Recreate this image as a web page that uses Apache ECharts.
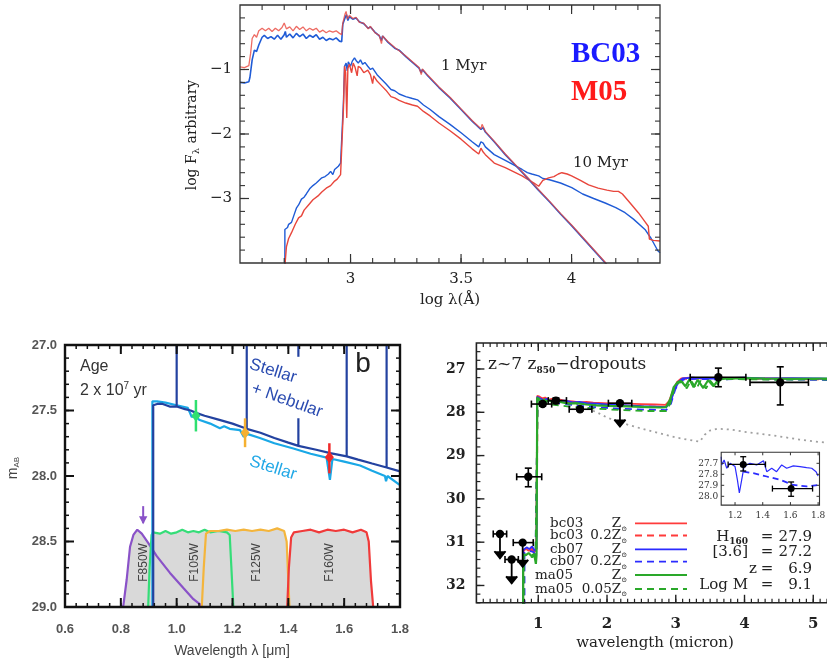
<!DOCTYPE html>
<html><head><meta charset="utf-8">
<script src="https://cdn.jsdelivr.net/npm/echarts@6/dist/echarts.min.js"></script>
<style>html,body{margin:0;padding:0;background:#fff}#c{width:827px;height:664px}</style>
</head><body><div id="c"></div>
<script>
// ---------------- TOP PANEL: log F_lambda vs log lambda ----------------
const topXLabels = [3, 3.5, 4];
const topYLabels = [-3, -2, -1];
const bc03_1Myr = [[2.50,-1.20],[2.52,-1.21],[2.54,-1.19],[2.545,-1.12],[2.555,-0.85],[2.565,-0.70],[2.575,-0.72],[2.585,-0.62],[2.60,-0.50],[2.61,-0.47],[2.625,-0.52],[2.64,-0.49],[2.655,-0.53],[2.67,-0.47],[2.685,-0.53],[2.70,-0.46],[2.705,-0.41],[2.71,-0.50],[2.725,-0.45],[2.74,-0.51],[2.755,-0.44],[2.77,-0.49],[2.785,-0.45],[2.80,-0.52],[2.815,-0.47],[2.83,-0.50],[2.845,-0.46],[2.86,-0.53],[2.875,-0.50],[2.89,-0.55],[2.905,-0.52],[2.92,-0.54],[2.935,-0.51],[2.95,-0.56],[2.96,-0.57],[2.965,-0.30],[2.975,-0.20],[2.982,-0.15],[2.988,-0.24],[2.995,-0.18],[3.01,-0.22],[3.025,-0.20],[3.04,-0.26],[3.06,-0.29],[3.08,-0.36],[3.09,-0.34],[3.11,-0.42],[3.13,-0.48],[3.14,-0.55],[3.145,-0.48],[3.17,-0.58],[3.20,-0.67],[3.22,-0.70],[3.25,-0.80],[3.28,-0.89],[3.31,-0.98],[3.32,-1.05],[3.325,-1.00],[3.35,-1.10],[3.40,-1.28],[3.45,-1.44],[3.50,-1.62],[3.55,-1.80],[3.59,-1.93],[3.60,-1.90],[3.61,-1.97],[3.65,-2.12],[3.70,-2.32],[3.75,-2.50],[3.80,-2.68],[3.85,-2.87],[3.90,-3.05],[3.95,-3.24],[4.00,-3.42],[4.05,-3.61],[4.10,-3.80],[4.15,-3.99],[4.16,-4.03]];
const m05_1Myr = [[2.50,-0.96],[2.52,-0.97],[2.54,-0.94],[2.548,-0.75],[2.555,-0.52],[2.565,-0.46],[2.575,-0.50],[2.585,-0.40],[2.60,-0.36],[2.615,-0.40],[2.63,-0.36],[2.645,-0.41],[2.66,-0.36],[2.675,-0.40],[2.69,-0.35],[2.70,-0.28],[2.71,-0.37],[2.725,-0.34],[2.74,-0.40],[2.755,-0.33],[2.77,-0.38],[2.785,-0.34],[2.80,-0.40],[2.815,-0.36],[2.83,-0.39],[2.845,-0.36],[2.86,-0.42],[2.875,-0.39],[2.89,-0.43],[2.905,-0.40],[2.92,-0.42],[2.935,-0.40],[2.95,-0.44],[2.96,-0.46],[2.965,-0.28],[2.975,-0.14],[2.98,-0.10],[2.986,-0.22],[2.995,-0.16],[3.01,-0.21],[3.025,-0.19],[3.04,-0.27],[3.06,-0.28],[3.08,-0.37],[3.09,-0.33],[3.11,-0.43],[3.13,-0.47],[3.14,-0.60],[3.145,-0.48],[3.17,-0.57],[3.20,-0.66],[3.22,-0.71],[3.25,-0.79],[3.28,-0.88],[3.31,-0.97],[3.32,-1.08],[3.325,-0.99],[3.35,-1.09],[3.40,-1.27],[3.45,-1.43],[3.50,-1.61],[3.55,-1.79],[3.59,-1.92],[3.595,-1.85],[3.61,-1.96],[3.65,-2.11],[3.70,-2.31],[3.75,-2.49],[3.80,-2.67],[3.85,-2.86],[3.90,-3.04],[3.95,-3.23],[4.00,-3.41],[4.05,-3.60],[4.10,-3.79],[4.15,-3.98],[4.16,-4.03]];
const bc03_10Myr = [[2.703,-4.05],[2.703,-3.48],[2.71,-3.48],[2.715,-3.45],[2.72,-3.40],[2.733,-3.37],[2.745,-3.25],[2.755,-3.15],[2.765,-3.10],[2.778,-3.01],[2.79,-2.98],[2.80,-2.93],[2.815,-2.85],[2.83,-2.80],[2.845,-2.76],[2.853,-2.73],[2.87,-2.68],[2.885,-2.66],[2.90,-2.62],[2.91,-2.58],[2.92,-2.63],[2.928,-2.55],[2.945,-2.50],[2.955,-2.45],[2.962,-2.45],[2.968,-1.50],[2.973,-0.95],[2.98,-0.90],[2.985,-1.02],[2.99,-0.88],[3.00,-0.95],[3.008,-0.87],[3.018,-0.82],[3.025,-0.86],[3.035,-0.90],[3.045,-0.85],[3.055,-0.92],[3.065,-0.89],[3.078,-0.95],[3.09,-1.00],[3.10,-0.98],[3.12,-1.08],[3.14,-1.15],[3.16,-1.22],[3.183,-1.31],[3.20,-1.33],[3.22,-1.38],[3.25,-1.42],[3.28,-1.45],[3.303,-1.47],[3.33,-1.55],[3.36,-1.62],[3.40,-1.73],[3.45,-1.85],[3.50,-1.98],[3.55,-2.12],[3.58,-2.20],[3.59,-2.12],[3.60,-2.14],[3.61,-2.20],[3.65,-2.32],[3.70,-2.41],[3.776,-2.55],[3.80,-2.60],[3.82,-2.62],[3.851,-2.65],[3.86,-2.62],[3.87,-2.69],[3.90,-2.71],[3.95,-2.76],[4.001,-2.83],[4.05,-2.93],[4.10,-3.00],[4.152,-3.07],[4.20,-3.14],[4.242,-3.22],[4.28,-3.32],[4.332,-3.48],[4.36,-3.62],[4.39,-3.81],[4.40,-3.84]];
const m05_10Myr = [[2.703,-4.05],[2.71,-3.75],[2.72,-3.62],[2.733,-3.53],[2.75,-3.40],[2.765,-3.30],[2.778,-3.27],[2.79,-3.18],[2.81,-3.10],[2.83,-3.02],[2.853,-2.96],[2.87,-2.90],[2.89,-2.84],[2.91,-2.80],[2.928,-2.73],[2.94,-2.70],[2.955,-2.63],[2.962,-2.60],[2.968,-1.60],[2.973,-0.95],[2.978,-1.05],[2.983,-1.75],[2.988,-0.98],[2.995,-0.92],[3.005,-1.05],[3.012,-0.90],[3.02,-0.96],[3.03,-1.10],[3.035,-0.95],[3.045,-0.97],[3.06,-1.05],[3.078,-1.01],[3.09,-1.08],[3.10,-1.22],[3.105,-1.10],[3.12,-1.18],[3.14,-1.25],[3.16,-1.32],[3.183,-1.42],[3.20,-1.44],[3.22,-1.48],[3.25,-1.52],[3.28,-1.55],[3.303,-1.57],[3.33,-1.65],[3.36,-1.72],[3.40,-1.83],[3.45,-1.95],[3.50,-2.08],[3.55,-2.23],[3.58,-2.31],[3.59,-2.22],[3.60,-2.28],[3.61,-2.32],[3.65,-2.45],[3.70,-2.52],[3.776,-2.65],[3.80,-2.70],[3.83,-2.76],[3.851,-2.81],[3.87,-2.72],[3.896,-2.68],[3.92,-2.66],[3.94,-2.62],[3.956,-2.60],[3.98,-2.62],[4.00,-2.65],[4.04,-2.72],[4.077,-2.79],[4.12,-2.84],[4.16,-2.87],[4.19,-2.89],[4.212,-2.89],[4.23,-2.93],[4.26,-3.05],[4.302,-3.22],[4.33,-3.35],[4.347,-3.43],[4.352,-3.63],[4.37,-3.65],[4.40,-3.66]];

// ---------------- BOTTOM LEFT: m_AB vs wavelength ----------------
const blXLabels = [0.6, 0.8, 1.0, 1.2, 1.4, 1.6, 1.8];
const blYLabels = [27.0, 27.5, 28.0, 28.5, 29.0];
const nebularSED = [[0.916,29.0],[0.916,27.46],[0.93,27.45],[0.95,27.45],[0.975,27.47],[1.0,27.47],[1.0,27.0],[1.0,27.47],[1.03,27.49],[1.05,27.5],[1.072,27.52],[1.1,27.54],[1.15,27.57],[1.2,27.6],[1.251,27.64],[1.251,27.0],[1.251,27.64],[1.3,27.67],[1.35,27.71],[1.4,27.745],[1.436,27.77],[1.436,27.56],[1.436,27.77],[1.5,27.8],[1.55,27.825],[1.609,27.85],[1.609,27.0],[1.609,27.85],[1.65,27.875],[1.7,27.905],[1.752,27.935],[1.752,27.0],[1.752,27.935],[1.8,27.965]];
const nebularLineTop = [[1.436,27.0],[1.436,27.09]];
const stellarSED = [[0.913,29.0],[0.913,27.43],[0.93,27.43],[0.96,27.44],[1.0,27.46],[1.04,27.48],[1.054,27.55],[1.065,27.53],[1.08,27.57],[1.12,27.6],[1.155,27.635],[1.17,27.62],[1.19,27.64],[1.227,27.65],[1.24,27.7],[1.255,27.68],[1.298,27.71],[1.35,27.75],[1.418,27.79],[1.48,27.83],[1.537,27.86],[1.549,28.03],[1.558,27.87],[1.6,27.89],[1.657,27.92],[1.7,27.96],[1.746,28.0],[1.75,28.04],[1.755,28.0],[1.8,28.07]];
const filterF850W = [[0.80,29.0],[0.809,28.99],[0.821,28.79],[0.833,28.54],[0.845,28.45],[0.859,28.41],[0.875,28.44],[0.898,28.51],[0.928,28.61],[0.976,28.74],[1.024,28.855],[1.06,28.94],[1.084,28.98],[1.09,29.0]];
const filterF105W = [[0.898,29.0],[0.903,28.7],[0.91,28.45],[0.915,28.43],[0.94,28.44],[0.96,28.42],[0.98,28.44],[1.0,28.43],[1.02,28.41],[1.04,28.43],[1.06,28.42],[1.08,28.43],[1.1,28.41],[1.12,28.43],[1.15,28.42],[1.18,28.43],[1.19,28.45],[1.196,28.7],[1.203,29.0]];
const filterF125W = [[1.09,29.0],[1.097,28.7],[1.105,28.44],[1.12,28.42],[1.15,28.42],[1.18,28.41],[1.21,28.42],[1.24,28.41],[1.27,28.42],[1.3,28.41],[1.33,28.42],[1.36,28.40],[1.385,28.42],[1.394,28.5],[1.4,28.8],[1.404,29.0]];
const filterF160W = [[1.396,29.0],[1.402,28.7],[1.41,28.47],[1.42,28.43],[1.45,28.42],[1.48,28.41],[1.51,28.43],[1.54,28.41],[1.57,28.42],[1.60,28.41],[1.63,28.43],[1.66,28.41],[1.68,28.43],[1.688,28.5],[1.696,28.8],[1.704,29.0]];
const filterNames = ['F850W', 'F105W', 'F125W', 'F160W'];
const filterLabelPos = [[0.883, 28.66], [1.066, 28.66], [1.286, 28.66], [1.549, 28.66]];
// [x, y, xlo, xhi, ylo, yhi, arrowTo]
const blPhot = [[1.069,27.54,null,null,27.42,27.66,null],[1.245,27.67,null,null,27.56,27.78,null],[1.547,27.856,null,null,27.75,27.98,null]];
const blLimit = [[0.88,28.23,null,null,null,null,28.36]];

// ---------------- BOTTOM RIGHT: z~7 dropouts ----------------
const brXLabels = [1, 2, 3, 4, 5];
const brYLabels = [27, 28, 29, 30, 31, 32];
const bc03Solar = [[0.78,32.5],[0.78,31.22],[0.82,31.15],[0.86,31.2],[0.9,31.12],[0.94,31.22],[0.97,31.18],[0.985,27.62],[1.02,27.64],[1.06,27.68],[1.1,27.66],[1.15,27.71],[1.2,27.69],[1.26,27.72],[1.32,27.71],[1.4,27.74],[1.5,27.75],[1.6,27.77],[1.7,27.76],[1.8,27.78],[1.95,27.79],[2.1,27.8],[2.3,27.8],[2.5,27.81],[2.7,27.82],[2.85,27.83],[2.9,27.75],[2.96,27.5],[3.02,27.3],[3.08,27.22],[3.2,27.2],[3.4,27.22],[3.6,27.2],[3.9,27.21],[4.2,27.22],[4.6,27.22],[5.0,27.23],[5.5,27.23],[6.0,27.24]];
const bc03Sub = [[0.79,32.5],[0.79,31.25],[0.84,31.2],[0.9,31.18],[0.95,31.26],[0.975,31.2],[0.99,27.65],[1.04,27.68],[1.1,27.7],[1.2,27.73],[1.3,27.75],[1.4,27.77],[1.55,27.79],[1.7,27.8],[1.9,27.82],[2.1,27.84],[2.3,27.85],[2.5,27.86],[2.7,27.87],[2.85,27.88],[2.92,27.75],[2.98,27.45],[3.04,27.28],[3.12,27.23],[3.3,27.22],[3.6,27.21],[4.0,27.22],[4.5,27.23],[5.0,27.24],[5.5,27.24],[6.0,27.25]];
const cb07Solar = [[0.78,32.5],[0.78,31.18],[0.83,31.12],[0.87,31.16],[0.91,31.1],[0.95,31.2],[0.975,31.15],[0.985,27.64],[1.03,27.68],[1.07,27.72],[1.12,27.69],[1.18,27.74],[1.22,27.72],[1.3,27.74],[1.4,27.73],[1.5,27.77],[1.6,27.76],[1.7,27.79],[1.85,27.8],[2.0,27.82],[2.15,27.83],[2.3,27.84],[2.5,27.86],[2.7,27.87],[2.86,27.88],[2.92,27.78],[2.98,27.5],[3.04,27.3],[3.1,27.22],[3.25,27.2],[3.45,27.23],[3.7,27.21],[4.0,27.2],[4.3,27.22],[4.7,27.21],[5.1,27.22],[5.6,27.24],[6.0,27.24]];
const cb07Sub = [[0.8,32.5],[0.8,31.25],[0.86,31.2],[0.92,31.22],[0.96,31.28],[0.99,27.66],[1.05,27.7],[1.12,27.74],[1.2,27.77],[1.3,27.79],[1.45,27.82],[1.6,27.85],[1.8,27.88],[2.0,27.9],[2.2,27.92],[2.4,27.93],[2.6,27.94],[2.86,27.95],[2.93,27.8],[2.99,27.48],[3.05,27.3],[3.12,27.24],[3.3,27.23],[3.6,27.24],[4.0,27.23],[4.5,27.24],[5.0,27.25],[5.5,27.26],[6.0,27.26]];
const ma05Solar = [[0.78,32.5],[0.78,31.28],[0.82,31.3],[0.86,31.25],[0.9,31.32],[0.94,31.27],[0.965,31.5],[0.975,31.3],[0.985,27.66],[1.02,27.7],[1.05,27.82],[1.08,27.7],[1.12,27.75],[1.16,27.72],[1.22,27.78],[1.28,27.74],[1.35,27.77],[1.45,27.8],[1.55,27.79],[1.7,27.82],[1.85,27.84],[2.0,27.85],[2.2,27.86],[2.4,27.87],[2.6,27.88],[2.8,27.89],[2.86,27.88],[2.92,27.7],[2.97,27.42],[3.03,27.3],[3.08,27.28],[3.14,27.4],[3.2,27.24],[3.26,27.42],[3.32,27.25],[3.4,27.44],[3.47,27.26],[3.55,27.4],[3.62,27.24],[3.75,27.22],[4.0,27.21],[4.3,27.22],[4.7,27.23],[5.2,27.22],[5.6,27.23],[6.0,27.24]];
const ma05Sub = [[0.79,32.5],[0.79,31.3],[0.85,31.28],[0.91,31.35],[0.96,31.3],[0.99,27.7],[1.04,27.75],[1.08,27.85],[1.12,27.78],[1.2,27.82],[1.3,27.84],[1.45,27.87],[1.6,27.89],[1.8,27.91],[2.0,27.93],[2.2,27.95],[2.4,27.96],[2.6,27.97],[2.86,27.97],[2.92,27.8],[2.98,27.45],[3.04,27.32],[3.1,27.3],[3.16,27.45],[3.22,27.26],[3.3,27.46],[3.36,27.27],[3.44,27.45],[3.5,27.27],[3.58,27.42],[3.65,27.25],[3.8,27.23],[4.1,27.24],[4.5,27.25],[5.0,27.24],[5.5,27.25],[6.0,27.26]];
const dottedSED = [[1.55,27.82],[1.7,27.9],[1.85,28.0],[2.0,28.12],[2.2,28.24],[2.4,28.33],[2.6,28.42],[2.8,28.5],[3.0,28.58],[3.2,28.64],[3.35,28.68],[3.42,28.52],[3.5,28.42],[3.6,28.38],[3.8,28.4],[4.0,28.45],[4.2,28.49],[4.4,28.53],[4.6,28.58],[4.8,28.63],[5.0,28.67],[5.3,28.72],[5.6,28.76]];
// [x, y, xlo, xhi, ylo, yhi, arrowTo]
const brPhot = [
  [0.443,30.81,0.345,0.54,null,null,31.37],
  [0.613,31.40,0.516,0.71,null,null,31.95],
  [0.773,31.01,0.636,0.927,null,null,31.57],
  [0.855,29.49,0.686,1.05,29.29,29.72,null],
  [1.064,27.81,0.90,1.195,27.76,27.86,null],
  [1.257,27.73,1.145,1.41,27.67,27.80,null],
  [1.607,27.93,1.45,1.78,27.89,27.97,null],
  [2.188,27.79,2.02,2.36,null,null,28.33],
  [3.62,27.19,3.21,4.02,26.98,27.41,null],
  [4.52,27.31,4.08,4.93,26.95,27.83,null]
];
const legendNames = ['bc03', 'bc03', 'cb07', 'cb07', 'ma05', 'ma05'];
const legendZ = ['Z', '0.2Z', 'Z', '0.2Z', 'Z', '0.05Z'];
const fitLabels = ['H', '[3.6]', 'z', 'Log M'];
const fitValues = ['27.9', '27.2', '6.9', '9.1'];

// inset
const insetXLabels = [1.2, 1.4, 1.6, 1.8];
const insetYLabels = [27.7, 27.8, 27.9, 28.0];
const insetSolar = [[1.1,27.64],[1.104,27.715],[1.121,27.67],[1.14,27.745],[1.164,27.70],[1.2,27.73],[1.217,27.85],[1.231,27.97],[1.248,27.85],[1.265,27.73],[1.308,27.70],[1.356,27.715],[1.405,27.676],[1.429,27.776],[1.465,27.745],[1.50,27.776],[1.537,27.715],[1.573,27.745],[1.621,27.724],[1.669,27.73],[1.717,27.74],[1.754,27.745],[1.785,27.776],[1.80,27.815]];
const insetSub = [[1.26,27.776],[1.332,27.79],[1.429,27.82],[1.525,27.85],[1.621,27.897],[1.717,27.91],[1.80,27.897]];
const insetPhot = [[1.259,27.71,1.15,1.42,27.64,27.77,null],[1.605,27.93,1.47,1.76,27.87,28.0,null]];

// ---------------- axes (labels only; frames + ticks drawn by a custom series) ----------------
function steps(a, b, s) { const out = []; const n = Math.round((b - a) / s); for (let i = 0; i <= n; i++) out.push(+(a + i * s).toFixed(4)); return out; }
const inList = (arr, v) => arr.some(a => Math.abs(a - v) < 1e-6);
const serif = 'DejaVu Serif', sans = 'Liberation Sans';
function valAxis(grid, pos, min, max, interval, inverse, fmt, lstyle, extra) {
  return Object.assign({ type: 'value', gridIndex: grid, position: pos, min, max, interval, inverse: !!inverse,
    axisLine: { show: false, onZero: false }, axisTick: { show: false }, splitLine: { show: false },
    axisLabel: Object.assign({ show: true, formatter: fmt }, lstyle) }, extra || {});
}
const xAxes = [
  valAxis(0, 'bottom', 2.5, 4.4, 0.5, false, v => inList(topXLabels, v) ? String(v) : '', { fontFamily: serif, fontSize: 15, color: '#222', margin: 9, showMinLabel: false, showMaxLabel: false }),
  valAxis(1, 'bottom', 0.6, 1.8, 0.2, false, v => inList(blXLabels, v) ? v.toFixed(1) : '', { fontFamily: sans, fontSize: 13, fontWeight: 'bold', color: '#555', margin: 16, showMinLabel: true, showMaxLabel: true }),
  valAxis(2, 'bottom', 0.1, 6.0, 0.1, false, v => inList(brXLabels, v) ? String(Math.round(v)) : '', { fontFamily: serif, fontSize: 15, fontWeight: 'bold', color: '#222', margin: 14 }),
  valAxis(3, 'bottom', 1.1, 1.81, 0.1, false, v => inList(insetXLabels, v) ? v.toFixed(1) : '', { fontFamily: serif, fontSize: 9, color: '#333', margin: 6, showMaxLabel: false }, { z: 12 })
];
const yAxes = [
  valAxis(0, 'left', -4, 0, 1, false, v => inList(topYLabels, v) ? String(v).replace('-', '\u2212') : '', { fontFamily: serif, fontSize: 15, color: '#222', margin: 8, showMinLabel: false, showMaxLabel: false }),
  valAxis(1, 'left', 27, 29, 0.5, true, v => inList(blYLabels, v) ? v.toFixed(1) : '', { fontFamily: sans, fontSize: 13, fontWeight: 'bold', color: '#555', margin: 8, showMinLabel: true, showMaxLabel: true }),
  valAxis(2, 'left', 26.4, 32.4, 0.2, true, v => inList(brYLabels, v) ? String(Math.round(v)) : '', { fontFamily: serif, fontSize: 14, fontWeight: 'bold', color: '#222', margin: 11 }),
  valAxis(3, 'left', 27.6, 28.08, 0.1, true, v => inList(insetYLabels, v) ? v.toFixed(1) : '', { fontFamily: serif, fontSize: 9, color: '#333', margin: 3, showMinLabel: false, showMaxLabel: false }, { z: 12 })
];

// frame + tick marks for each panel, positioned through the axis scales
function frameSeries(gi, f) {
  return {
    type: 'custom', xAxisIndex: gi, yAxisIndex: gi, data: [[f.x0, f.y0]], z: f.z || 20, clip: false, animation: false, silent: true,
    renderItem: function (params, api) {
      const cs = params.coordSys;
      const L = cs.x, R = cs.x + cs.width, T = cs.y, B = cs.y + cs.height;
      const ch = [];
      const ts = w => ({ stroke: f.color, lineWidth: w });
      const tick = (vals, len, w) => {
        vals.forEach(v => {
          const px = api.coord([v, f.y0])[0];
          if (f.bottom !== false) ch.push({ type: 'line', shape: { x1: px, y1: B, x2: px, y2: B - len }, style: ts(w) });
          if (f.top !== false) ch.push({ type: 'line', shape: { x1: px, y1: T, x2: px, y2: T + len }, style: ts(w) });
        });
      };
      const ticky = (vals, len, w) => {
        vals.forEach(v => {
          const py = api.coord([f.x0, v])[1];
          if (f.left !== false) ch.push({ type: 'line', shape: { x1: L, y1: py, x2: L + len, y2: py }, style: ts(w) });
          if (f.right !== false) ch.push({ type: 'line', shape: { x1: R, y1: py, x2: R - len, y2: py }, style: ts(w) });
        });
      };
      tick(f.xMinor, f.minorLen, f.minorW); tick(f.xMajor, f.majorLen, f.majorW);
      ticky(f.yMinor, f.minorLen, f.minorW); ticky(f.yMajor, f.majorLen, f.majorW);
      ch.push({ type: 'rect', shape: { x: L, y: T, width: R - L, height: B - T }, style: { fill: null, stroke: f.color, lineWidth: f.lineWidth } });
      return { type: 'group', children: ch };
    }
  };
}

function lineS(data, gi, color, width, extra) {
  return Object.assign({ type: 'line', data, xAxisIndex: gi, yAxisIndex: gi, showSymbol: false, symbol: 'none', animation: false,
    lineStyle: { color, width }, z: 3 }, extra || {});
}
function errSeries(data, gi, opt) {
  return {
    type: 'custom', xAxisIndex: gi, yAxisIndex: gi, data, animation: false, z: opt.z || 5,
    renderItem: function (params, api) {
      const v = i => api.value(i);
      const c = api.coord([v(0), v(1)]);
      const col = opt.colors ? opt.colors[params.dataIndex] : opt.color;
      const st = { stroke: col, lineWidth: opt.lw };
      const ch = [];
      const cap = opt.cap;
      if (!isNaN(v(2))) {
        const a = api.coord([v(2), v(1)]), b = api.coord([v(3), v(1)]);
        ch.push({ type: 'line', shape: { x1: a[0], y1: a[1], x2: b[0], y2: b[1] }, style: st });
        if (cap) {
          ch.push({ type: 'line', shape: { x1: a[0], y1: a[1] - cap, x2: a[0], y2: a[1] + cap }, style: st });
          ch.push({ type: 'line', shape: { x1: b[0], y1: b[1] - cap, x2: b[0], y2: b[1] + cap }, style: st });
        }
      }
      if (!isNaN(v(4))) {
        const a = api.coord([v(0), v(4)]), b = api.coord([v(0), v(5)]);
        ch.push({ type: 'line', shape: { x1: a[0], y1: a[1], x2: b[0], y2: b[1] }, style: Object.assign({}, st, { lineWidth: opt.vlw || opt.lw }) });
        if (cap) {
          ch.push({ type: 'line', shape: { x1: a[0] - cap, y1: a[1], x2: a[0] + cap, y2: a[1] }, style: st });
          ch.push({ type: 'line', shape: { x1: b[0] - cap, y1: b[1], x2: b[0] + cap, y2: b[1] }, style: st });
        }
      }
      if (!isNaN(v(6))) {
        const t = api.coord([v(0), v(6)]);
        const h = opt.head || 6;
        ch.push({ type: 'line', shape: { x1: c[0], y1: c[1], x2: t[0], y2: t[1] }, style: Object.assign({}, st, { lineWidth: opt.alw || opt.lw }) });
        if (opt.filledHead) {
          ch.push({ type: 'polygon', shape: { points: [[t[0] - h * 0.6, t[1] - h], [t[0] + h * 0.6, t[1] - h], [t[0], t[1] + 1]] }, style: { fill: col } });
        } else {
          ch.push({ type: 'polyline', shape: { points: [[t[0] - h * 0.8, t[1] - h], [t[0], t[1]], [t[0] + h * 0.8, t[1] - h]] }, style: Object.assign({}, st, { lineWidth: opt.alw || opt.lw }) });
        }
      }
      if (opt.marker === 'circle') {
        ch.push({ type: 'circle', shape: { cx: c[0], cy: c[1], r: opt.r }, style: { fill: col } });
      } else if (opt.marker === 'diamond') {
        const w = opt.r * 0.75, hh = opt.r;
        ch.push({ type: 'polygon', shape: { points: [[c[0], c[1] - hh], [c[0] + w, c[1]], [c[0], c[1] + hh], [c[0] - w, c[1]]] }, style: { fill: col } });
      }
      return { type: 'group', children: ch };
    }
  };
}

const series = [];
// top panel
series.push(lineS(bc03_10Myr, 0, '#1f5bd6', 1.4));
series.push(lineS(m05_10Myr, 0, '#e8463c', 1.4));
series.push(lineS(bc03_1Myr, 0, '#1f5bd6', 1.6));
series.push(lineS(m05_1Myr, 0, '#e8463c', 1.3, { lineStyle: { color: '#e8463c', width: 1.3, opacity: 0.8 } }));
series.push(frameSeries(0, { x0: 2.5, y0: -4, color: '#333', lineWidth: 1.3, majorLen: 9, minorLen: 5, majorW: 1.2, minorW: 1.1,
  xMajor: [3, 3.5, 4], xMinor: steps(2.6, 4.3, 0.1), yMajor: [-3, -2, -1], yMinor: steps(-3.8, -0.2, 0.2) }));
// bottom-left: fills then filter lines
const filters = [filterF850W, filterF105W, filterF125W, filterF160W];
const filterColors = ['#8a52c8', '#35dd78', '#f4b53c', '#f03a3a'];
filters.forEach(f => series.push(lineS(f, 1, 'rgba(0,0,0,0)', 0, { areaStyle: { color: '#d9d9d9', opacity: 1, origin: 'end' }, z: 1 })));
filters.forEach((f, i) => series.push(lineS(f, 1, filterColors[i], 2.2, { z: 2 })));
series.push(lineS(stellarSED, 1, '#1aa8e6', 2.2));
series.push(lineS(nebularSED, 1, '#2342a0', 2.2));
series.push(lineS(nebularLineTop, 1, '#2342a0', 2.2));
series.push(errSeries(blPhot, 1, { colors: ['#2fe070', '#f5b030', '#f02a2a'], lw: 2, vlw: 2.5, marker: 'diamond', r: 6 }));
series.push(errSeries(blLimit, 1, { color: '#8a52c8', lw: 2, marker: 'none', filledHead: true, head: 7 }));
series.push(frameSeries(1, { x0: 0.6, y0: 27, color: '#111', lineWidth: 2.4, majorLen: 9, minorLen: 4, majorW: 2, minorW: 1.5,
  xMajor: steps(0.8, 1.6, 0.2), xMinor: steps(0.64, 1.76, 0.04), yMajor: [27.5, 28, 28.5], yMinor: steps(27.1, 28.9, 0.1) }));
// bottom-right
series.push(lineS(dottedSED, 2, '#a0a0a0', 1.8, { lineStyle: { color: '#a0a0a0', width: 1.8, type: [2, 4] } }));
series.push(lineS(bc03Solar, 2, '#ff3b3b', 1.8));
series.push(lineS(bc03Sub, 2, '#ff3b3b', 1.8, { lineStyle: { color: '#ff3b3b', width: 1.8, type: [7, 5] } }));
series.push(lineS(cb07Solar, 2, '#2b2bff', 1.8));
series.push(lineS(cb07Sub, 2, '#2b2bff', 1.8, { lineStyle: { color: '#2b2bff', width: 1.8, type: [7, 5] } }));
series.push(lineS(ma05Sub, 2, '#2aa82a', 1.8, { lineStyle: { color: '#2aa82a', width: 1.8, type: [7, 5] } }));
series.push(lineS(ma05Solar, 2, '#2aa82a', 2.2));
series.push(errSeries(brPhot, 2, { color: '#000', lw: 1.6, cap: 3.5, marker: 'circle', r: 4.2, head: 7, alw: 1.8 }));
series.push(frameSeries(2, { x0: 0.1, y0: 26.4, color: '#222', lineWidth: 1.6, majorLen: 8, minorLen: 4, majorW: 1.4, minorW: 1.2, right: false,
  xMajor: brXLabels, xMinor: steps(0.2, 5.9, 0.1), yMajor: brYLabels, yMinor: steps(26.6, 32.4, 0.2) }));
// inset
series.push(lineS(insetSub, 3, '#2b2bff', 1.6, { z: 13, lineStyle: { color: '#2b2bff', width: 1.8, type: [6, 4] } }));
series.push(lineS(insetSolar, 3, '#2b2bff', 1.2, { z: 13 }));
series.push(errSeries(insetPhot, 3, { color: '#000', lw: 1.3, cap: 3, marker: 'circle', r: 3.5, z: 14 }));
series.push(frameSeries(3, { x0: 1.1, y0: 27.6, color: '#333', lineWidth: 1.1, majorLen: 3, minorLen: 2, majorW: 1, minorW: 1, z: 25,
  xMajor: insetXLabels, xMinor: [], yMajor: insetYLabels, yMinor: [] }));

// ---------------- text annotations ----------------
function txt(x, y, text, style, extra) {
  return Object.assign({ type: 'text', x, y, z: 100, style: Object.assign({ text, textAlign: 'left', textVerticalAlign: 'middle', fill: '#222' }, style) }, extra || {});
}
const g = [];
// top
g.push(txt(441, 66, '1 Myr', { font: '15px "DejaVu Serif"' }));
g.push(txt(573, 163, '10 Myr', { font: '15px "DejaVu Serif"' }));
g.push(txt(571, 55, 'BC03', { font: 'bold 29px "Liberation Serif"', fill: '#1a1aff' }));
g.push(txt(571, 93, 'M05', { font: 'bold 29px "Liberation Serif"', fill: '#ff1a1a' }));
g.push(txt(450, 300, 'log \u03bb(\u00c5)', { font: '15px "DejaVu Serif"', textAlign: 'center' }));
g.push(txt(192, 135, '', { text: '{a|log F}{s|\u03bb}{a| arbitrary}', textAlign: 'center', rich: { a: { font: '14px "DejaVu Serif"', fill: '#222', lineHeight: 18 }, s: { font: '10px "DejaVu Serif"', fill: '#222', verticalAlign: 'bottom', lineHeight: 14 } } }, { rotation: Math.PI / 2 }));
// bottom-left
g.push(txt(80, 367, 'Age', { font: '16px "Liberation Sans"', fill: '#333' }));
g.push(txt(80, 391, '', { text: '{a|2 x 10}{p|7}{a| yr}', rich: { a: { font: '16px "Liberation Sans"', fill: '#333', lineHeight: 20 }, p: { font: '10px "Liberation Sans"', fill: '#333', verticalAlign: 'top', lineHeight: 20 } } }));
g.push(txt(250, 364, 'Stellar', { font: '17px "Liberation Sans"', fill: '#2a4bb0' }, { rotation: -0.30 }));
g.push(txt(252, 388, '+ Nebular', { font: '17px "Liberation Sans"', fill: '#2a4bb0' }, { rotation: -0.34 }));
g.push(txt(250, 461, 'Stellar', { font: '17px "Liberation Sans"', fill: '#22a8e6' }, { rotation: -0.30 }));
g.push(txt(363, 364, 'b', { font: '28px "Liberation Sans"', fill: '#222', textAlign: 'center' }));
g.push(txt(232, 651, 'Wavelength \u03bb [\u03bcm]', { font: '14px "Liberation Sans"', fill: '#444', textAlign: 'center' }));
g.push(txt(13, 468, '', { text: '{a|m}{s|AB}', textAlign: 'center', rich: { a: { font: '14px "Liberation Sans"', fill: '#444', lineHeight: 16 }, s: { font: '8px "Liberation Sans"', fill: '#444', verticalAlign: 'bottom', lineHeight: 12 } } }, { rotation: Math.PI / 2 }));
// bottom-right
g.push(txt(488, 365, '', { text: '{a|z~7 z}{s|850}{a|\u2212dropouts}', rich: { a: { font: '17px "DejaVu Serif"', fill: '#222', lineHeight: 20 }, s: { font: 'bold 9px "DejaVu Serif"', fill: '#222', verticalAlign: 'bottom', lineHeight: 14 } } }));
g.push(txt(655, 643, 'wavelength (micron)', { font: '15px "DejaVu Serif"', fill: '#222', textAlign: 'center' }));
const legendRowsY = [523.3, 535.5, 549.3, 561.7, 575, 589];
const legendLeftX = [550, 550, 550, 550, 535, 535];
const legendColors = ['#ff3b3b', '#ff3b3b', '#2b2bff', '#2b2bff', '#2aa82a', '#2aa82a'];
legendNames.forEach((n, i) => {
  const y = legendRowsY[i];
  g.push(txt(legendLeftX[i], y, n, { font: '13.5px "DejaVu Serif"', fill: '#222' }));
  g.push(txt(627, y, '', { textAlign: 'right', text: '{a|' + legendZ[i] + '}{s|\u2299}', rich: { a: { font: '13.5px "DejaVu Serif"', fill: '#222', lineHeight: 18 }, s: { font: '7px "DejaVu Serif"', fill: '#222', verticalAlign: 'bottom', lineHeight: 12 } } }));
  g.push({ type: 'line', z: 100, shape: { x1: 635, y1: y, x2: 687, y2: y }, style: { stroke: legendColors[i], lineWidth: 1.8, lineDash: i % 2 ? [7, 5] : null } });
});
const fitRowsY = [536.7, 551.7, 569, 585.5];
fitLabels.forEach((l, i) => {
  const y = fitRowsY[i];
  if (i === 0) {
    g.push(txt(748, y, '', { textAlign: 'right', text: '{a|H}{s|160}', rich: { a: { font: '15px "DejaVu Serif"', fill: '#222', lineHeight: 18 }, s: { font: 'bold 9px "DejaVu Serif"', fill: '#222', verticalAlign: 'bottom', lineHeight: 14 } } }));
  } else {
    g.push(txt(i === 2 ? 757 : 748, y, l, { font: '15px "DejaVu Serif"', fill: '#222', textAlign: 'right' }));
  }
  g.push(txt(767, y, '=', { font: '15px "DejaVu Serif"', fill: '#222', textAlign: 'center' }));
  g.push(txt(812, y, fitValues[i], { font: '15px "DejaVu Serif"', fill: '#222', textAlign: 'right' }));
});
const chart = echarts.init(document.getElementById('c'), null, { renderer: 'canvas' });
const option = {
  animation: false,
  backgroundColor: '#fff',
  grid: [
    { left: 240, top: 5, width: 420, height: 258, outerBoundsMode: 'none', containLabel: false },
    { left: 65, top: 345, width: 335, height: 262, outerBoundsMode: 'none', containLabel: false },
    { left: 476.4, top: 343, width: 405.6, height: 259.8, outerBoundsMode: 'none', containLabel: false },
    { left: 721.2, top: 452.3, width: 98.3, height: 52.8, show: true, backgroundColor: '#fff', borderWidth: 0, z: 10, outerBoundsMode: 'none', containLabel: false }
  ],
  xAxis: xAxes,
  yAxis: yAxes,
  series: series,
  graphic: { elements: g }
};
chart.setOption(option);
// filter name labels placed through the axis scales
const flabels = filterNames.map((n, i) => {
  const p = chart.convertToPixel({ xAxisIndex: 1, yAxisIndex: 1 }, filterLabelPos[i]);
  return txt(p[0], p[1], n, { font: '12px "Liberation Sans"', fill: '#444', textAlign: 'center' }, { rotation: Math.PI / 2 });
});
chart.setOption({ graphic: { elements: g.concat(flabels) } });
</script></body></html>
